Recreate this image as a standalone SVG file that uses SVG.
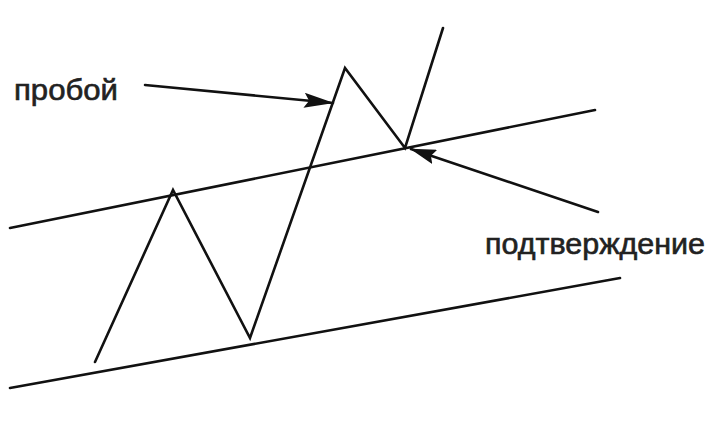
<svg xmlns="http://www.w3.org/2000/svg" width="723" height="433" viewBox="0 0 723 433">
<style>
.ln{stroke:#111;stroke-width:2.6;fill:none;stroke-linecap:round;stroke-linejoin:miter}
.t{font-family:"Liberation Sans",Arial,sans-serif;font-size:29px;fill:#222;stroke:#222;stroke-width:0.6}
</style>
<defs>
<marker id="ah2" markerWidth="30" markerHeight="15" refX="29" refY="7.5" orient="auto" markerUnits="userSpaceOnUse" viewBox="0 0 30 15">
<path d="M0,0 L30,7.5 L0,15 L5,7.5 Z" fill="#111"/>
</marker>
<marker id="ah3" markerWidth="26" markerHeight="15" refX="25" refY="7.5" orient="auto" markerUnits="userSpaceOnUse" viewBox="0 0 26 15">
<path d="M0,0 L26,7.5 L0,15 L4,7.5 Z" fill="#111"/>
</marker>
</defs>
<rect width="723" height="433" fill="#fff"/>
<g id="channel">
<line class="ln" x1="10" y1="228" x2="595" y2="110"/>
<line class="ln" x1="10" y1="388" x2="620" y2="278"/>
</g>
<g id="price">
<polyline class="ln" points="95,362 173,190 250,338 345,68 405,148 443,28"/>
</g>
<g id="labels">
<text class="t" x="14" y="100" textLength="104" lengthAdjust="spacingAndGlyphs">пробой</text>
<text class="t" x="485" y="254" textLength="220" lengthAdjust="spacingAndGlyphs">подтверждение</text>
</g>
<g id="connectors">
<line class="ln" x1="145" y1="85" x2="333" y2="103" marker-end="url(#ah2)"/>
<line class="ln" x1="598" y1="212" x2="411" y2="149" marker-end="url(#ah3)"/>
</g>
</svg>
